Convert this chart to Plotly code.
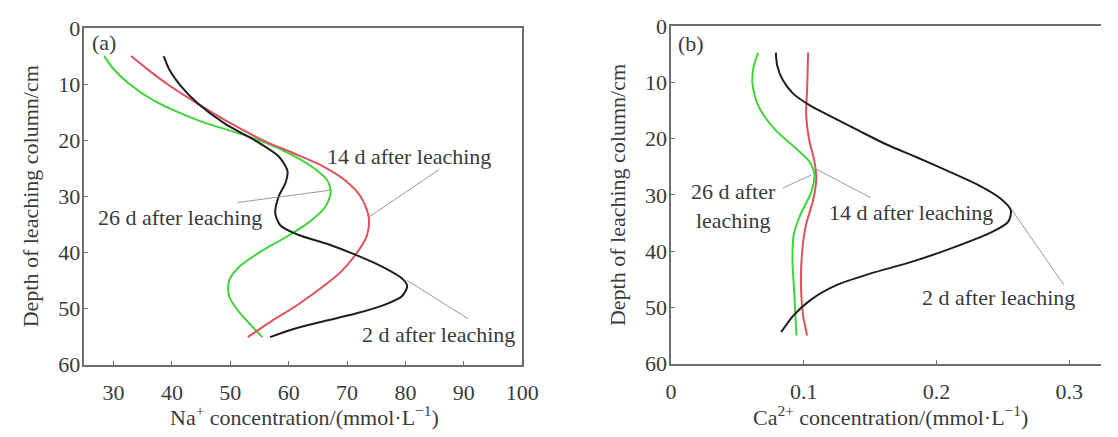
import plotly.graph_objects as go

W, H = 1118, 437

# Panel (a): Na+ concentration (mmol/L) vs depth (cm)
na_2d_x = [38.6, 39.6, 41.5, 44.5, 49.0, 54.5, 58.3, 59.8, 59.5, 58.3, 57.7, 58.6, 61.5, 66.9, 71.4, 76.5, 79.6, 80.3, 79.4, 76.5, 71.5, 65.5, 61.0, 56.8]
na_2d_y = [5.0, 7.5, 10.3, 13.5, 17.0, 20.2, 22.9, 25.5, 27.5, 30.0, 33.0, 35.2, 36.8, 38.6, 40.4, 42.8, 44.8, 46.0, 47.8, 49.3, 50.9, 52.4, 53.6, 55.1]
na_14d_x = [33.0, 36.0, 39.5, 44.6, 50.1, 56.0, 61.5, 65.8, 69.5, 72.3, 73.7, 73.4, 71.4, 68.8, 66.0, 61.3, 57.0, 53.0]
na_14d_y = [5.0, 7.5, 10.2, 13.6, 17.0, 20.2, 22.6, 24.6, 27.0, 30.0, 33.6, 37.0, 40.5, 43.6, 46.0, 49.5, 52.3, 55.1]
na_26d_x = [28.4, 30.0, 32.5, 37.0, 44.6, 53.0, 59.0, 63.8, 66.5, 67.2, 66.2, 63.5, 59.5, 55.0, 51.5, 49.8, 49.8, 51.5, 55.5]
na_26d_y = [5.0, 7.3, 9.8, 13.0, 16.5, 19.3, 21.8, 24.6, 27.0, 29.3, 32.0, 34.6, 37.3, 40.0, 42.6, 45.0, 47.8, 50.6, 55.1]

# Panel (b): Ca2+ concentration (mmol/L) vs depth (cm)
ca_2d_x = [0.079, 0.080, 0.084, 0.092, 0.104, 0.120, 0.140, 0.162, 0.185, 0.210, 0.232, 0.248, 0.256, 0.254, 0.240, 0.210, 0.180, 0.150, 0.125, 0.105, 0.092, 0.083]
ca_2d_y = [4.7, 7.0, 9.5, 12.0, 14.0, 16.0, 18.4, 21.0, 23.3, 25.9, 28.3, 30.6, 32.7, 34.8, 36.8, 39.6, 42.0, 44.0, 46.0, 48.7, 51.5, 54.4]
ca_14d_x = [0.1033, 0.1026, 0.1018, 0.1040, 0.1080, 0.1095, 0.1070, 0.1015, 0.0985, 0.0980, 0.0995, 0.1026]
ca_14d_y = [4.7, 11.0, 15.6, 20.1, 24.0, 27.0, 31.0, 35.5, 41.0, 47.0, 51.4, 55.0]
ca_26d_x = [0.0657, 0.0620, 0.0615, 0.0665, 0.0780, 0.0930, 0.1040, 0.1080, 0.1055, 0.0975, 0.0925, 0.0915, 0.0930, 0.0945]
ca_26d_y = [4.7, 7.5, 10.5, 14.5, 18.3, 21.5, 24.0, 26.3, 29.6, 33.5, 37.0, 41.5, 48.0, 55.0]

na_ticks = [30, 40, 50, 60, 70, 80, 90, 100]
ca_ticks = [0, 0.1, 0.2, 0.3]
ca_ticklabels = ["0", "0.1", "0.2", "0.3"]
depth_ticks = [0, 10, 20, 30, 40, 50, 60]

GREEN = "#3ed43a"
RED = "#e0505a"
BLACK = "#1e1e1e"
AXC = "#6e6e6e"
TXT = "#3a3a3a"
FONT = "Liberation Serif, Times New Roman, serif"

fig = go.Figure()

def add(x, y, color, xa, ya):
    fig.add_trace(go.Scatter(x=x, y=y, mode="lines", xaxis=xa, yaxis=ya,
                             line=dict(color=color, width=2, shape="spline", smoothing=0.8),
                             showlegend=False, hoverinfo="skip"))

add(na_26d_x, na_26d_y, GREEN, "x", "y")
add(na_14d_x, na_14d_y, RED, "x", "y")
add(na_2d_x, na_2d_y, BLACK, "x", "y")
add(ca_26d_x, ca_26d_y, GREEN, "x2", "y2")
add(ca_14d_x, ca_14d_y, RED, "x2", "y2")
add(ca_2d_x, ca_2d_y, BLACK, "x2", "y2")

def px_x(p):
    return p / W

def px_y(p):
    return (H - p) / H

common = dict(showgrid=False, zeroline=False, showline=True, linecolor=AXC, linewidth=1.5,
              ticks="inside", ticklen=4, tickwidth=1, tickcolor=AXC,
              tickfont=dict(family=FONT, size=22, color=TXT))
xcommon = dict(common, ticklabelstandoff=7)
ycommon = dict(common, ticklabelstandoff=-2)

fig.update_layout(
    width=W, height=H, margin=dict(l=0, r=0, t=0, b=0),
    paper_bgcolor="white", plot_bgcolor="white",
    xaxis=dict(domain=[px_x(80), px_x(527)], range=[25, 100], tickvals=na_ticks,
               mirror=True, anchor="y", **xcommon),
    yaxis=dict(domain=[px_y(374), px_y(17)], range=[60, 0], tickvals=depth_ticks,
               mirror=True, anchor="x", **ycommon),
    xaxis2=dict(domain=[px_x(679), 1.0], range=[0, (W - 679) / 1355], tickvals=ca_ticks,
                ticktext=ca_ticklabels, mirror=True, anchor="y2", **xcommon),
    yaxis2=dict(domain=[px_y(373), px_y(15)], range=[60, 0], tickvals=depth_ticks,
                mirror=False, anchor="x2", **ycommon),
)

# leader lines
leaders = [
    ("x", "y", 85.8, 25.2, 73.9, 33.6),
    ("x", "y", 51.3, 31.1, 67.2, 28.9),
    ("x", "y", 80.3, 45.0, 90.7, 51.8),
    ("x2", "y2", 0.084, 28.8, 0.1055, 26.5),
    ("x2", "y2", 0.110, 25.5, 0.1505, 30.5),
    ("x2", "y2", 0.257, 32.7, 0.296, 46.0),
]
for xr, yr, x0, y0, x1, y1 in leaders:
    fig.add_shape(type="line", xref=xr, yref=yr, x0=x0, y0=y0, x1=x1, y1=y1,
                  line=dict(color="#9a9a9a", width=1))

labels = [
    ("x", "y", 80.6, 22.9, "14 d after leaching"),
    ("x", "y", 41.4, 33.8, "26 d after leaching"),
    ("x", "y", 85.6, 54.6, "2 d after leaching"),
    ("x", "y", 28.4, 2.5, "(a)"),
    ("x2", "y2", 0.0472, 32.0, "26 d after<br>leaching"),
    ("x2", "y2", 0.1805, 33.2, "14 d after leaching"),
    ("x2", "y2", 0.2465, 48.2, "2 d after leaching"),
    ("x2", "y2", 0.0148, 3.0, "(b)"),
]
for xr, yr, x, y, t in labels:
    fig.add_annotation(xref=xr, yref=yr, x=x, y=y, text=t, showarrow=False,
                       font=dict(family=FONT, size=22, color=TXT), align="center")

titles = [
    (px_x(305), px_y(428), "Na<sup>+</sup> concentration/(mmol·L<sup>−1</sup>)", 0),
    (px_x(903), px_y(428), "Ca<sup>2+</sup> concentration/(mmol·L<sup>−1</sup>)", 0),
    (px_x(25), px_y(195), "Depth of leaching column/cm", -90),
    (px_x(625), px_y(194), "Depth of leaching column/cm", -90),
]
for x, y, t, a in titles:
    fig.add_annotation(xref="paper", yref="paper", x=x, y=y, text=t, showarrow=False,
                       textangle=a, xanchor="center", yanchor="middle",
                       font=dict(family=FONT, size=22, color=TXT))

fig.write_html("out.html")
